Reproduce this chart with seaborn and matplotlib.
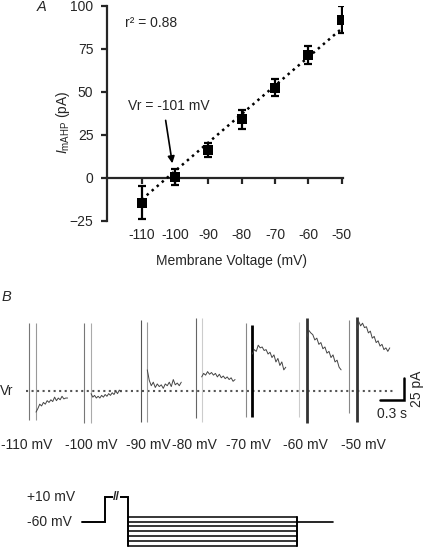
import numpy as np
import matplotlib
matplotlib.use("Agg")
import matplotlib.pyplot as plt
import seaborn as sns

# Panel A: mAHP current vs membrane voltage
voltages = [-110, -100, -90, -80, -70, -60, -50]
i_mahp = [-14.5, 0.5, 16, 34, 52.5, 71.5, 92]
i_sem = [9.5, 4.8, 4, 5.5, 5.2, 5.3, 7.8]
fit_v = [-110, -50]
fit_i = [-12.7, 86.8]

# Panel B: example traces (time in s, current in pA relative to Vr)
step_labels = ["-110 mV", "-100 mV", "-90 mV", "-80 mV", "-70 mV", "-60 mV", "-50 mV"]
stim_on = [0.366, 1.054, 1.759, 2.446, 3.071, 3.741, 4.359]
stim_off = [0.450, 1.138, 1.841, 2.521, 3.154, 3.834, 4.459]
trace_dur = [0.395, 0.375, 0.425, 0.417, 0.418, 0.430, 0.413]
art1_top = [76.9, 76.9, 80.7, 82.6, 76.9, 78.7, 80.7]
art1_bot = [-33.0, -36.7, -34.9, -31.0, -29.2, -29.0, -25.4]
art2_top = [76.9, 76.9, 78.7, 82.6, 75.0, 82.6, 84.4]
art2_bot = [-33.0, -36.7, -34.9, -34.9, -29.0, -36.7, -34.9]
traces = [
    [-24, -20, -15, -17, -13, -15, -11, -13, -10, -12, -7, -11, -8, -10, -6, -9, -8, -8],
    [-3, -7, -5, -8, -6, -8, -5, -7, -4, -6, -3, -5, -2, -4, 0, -3, 1, -1],
    [24, 12, 6, 10, 4, 8, 5, 7, 3, 8, 6, 10, 5, 13, 7, 9, 6, 10],
    [16, 20, 18, 22, 19, 21, 18, 20, 16, 19, 15, 17, 14, 16, 13, 15, 11, 13],
    [42, 47, 45, 52, 49, 50, 46, 47, 42, 44, 38, 41, 33, 37, 29, 33, 24, 27],
    [60, 69, 66, 64, 58, 60, 53, 55, 48, 50, 43, 45, 38, 41, 33, 35, 27, 24],
    [69, 79, 74, 77, 72, 73, 66, 68, 60, 62, 55, 57, 51, 53, 47, 49, 45, 49],
]

# Voltage protocol (schematic)
protocol_t = [1.021, 1.3125, 1.604, 3.709, 4.166]
hold_v = -60
pre_display = -10.4  # +10 mV prepulse, axis broken
step_v = [-50, -60, -70, -80, -90, -100, -110]

sns.set_style("ticks")
plt.rcParams["font.family"] = ["Liberation Sans", "DejaVu Sans"]
plt.rcParams["mathtext.fontset"] = "custom"
plt.rcParams["mathtext.rm"] = "Liberation Sans"
plt.rcParams["mathtext.it"] = "Liberation Sans:italic"

fig = plt.figure(figsize=(4.24, 5.48), dpi=100)

# ---------------- Panel A ----------------
ax = fig.add_axes([0.2531, 0.5973, 0.5566, 0.3918])
ax.errorbar(voltages, i_mahp, yerr=i_sem, fmt="none", ecolor="black",
            elinewidth=1.6, capsize=3.2, capthick=1.6, zorder=2)
sns.lineplot(x=fit_v, y=fit_i, ax=ax, color="black", linestyle=":", linewidth=1.8, zorder=3)
sns.scatterplot(x=voltages, y=i_mahp, ax=ax, marker="s", s=45, color="black",
                linewidth=0, zorder=4)
ax.set_xlim(-120.3, -49.5)
ax.set_ylim(-25, 100)
ax.set_yticks([-25, 0, 25, 50, 75, 100])
ax.set_xticks(voltages)
ax.spines["bottom"].set_position(("data", 0))
ax.spines["right"].set_visible(False)
ax.spines["top"].set_visible(False)
for s in ["left", "bottom"]:
    ax.spines[s].set_linewidth(1.6)
ax.tick_params(axis="x", direction="out", length=4, width=1.6, labelbottom=False)
ax.tick_params(axis="y", direction="out", length=4, width=1.6, labelsize=10, pad=6)

# tick labels sit at the bottom of the panel, below the zero-crossing axis
sec = ax.secondary_xaxis("bottom")
sec.set_xticks(voltages)
sec.set_xticklabels([str(v) for v in voltages])
sec.tick_params(length=0, labelsize=10, pad=5)
sec.spines["bottom"].set_visible(False)

ax.set_ylabel(r"$I_{\mathrm{mAHP}}$ (pA)", fontsize=10)
ax.yaxis.set_label_coords(-0.15, 0.46)
ax.text(0.528, -0.155, "Membrane Voltage (mV)", transform=ax.transAxes,
        fontsize=10, ha="center", va="top")

ax.text(-115, 90, "r² = 0.88", fontsize=10, va="center", ha="left")
ax.text(-114.2, 41.6, "Vr = -101 mV", fontsize=10, va="center", ha="left")
ax.annotate("", xy=(-100.8, 8.4), xytext=(-102.8, 33.4),
            arrowprops=dict(arrowstyle="-|>", color="black", lw=1.2,
                            mutation_scale=10, shrinkA=0, shrinkB=0))

fig.text(37 / 424, 1.0, "A", fontsize=10.5, style="italic", va="top", ha="left")

# ---------------- Panel B ----------------
bx = fig.add_axes([0, 0.1606, 1, 0.292])
bx.set_xlim(0, 5.3)
bx.set_ylim(-78.4, 103.4)
bx.axis("off")

bx.plot([0.33, 4.94], [0, 0], linestyle=":", color="#555555", linewidth=1.5, zorder=1)

art1_colors = ["#777777", "#777777", "#555555", "#666666", "#888888", "#cccccc", "#888888"]
art2_colors = ["#999999", "#aaaaaa", "#999999", "#cccccc", "#000000", "#333333", "#333333"]
art2_widths = [0.8, 0.8, 0.8, 0.8, 2.0, 2.0, 2.0]
for k in range(len(traces)):
    bx.vlines(stim_on[k], art1_bot[k], art1_top[k], color=art1_colors[k], linewidth=0.8)
    bx.vlines(stim_off[k], art2_bot[k], art2_top[k], color=art2_colors[k], linewidth=art2_widths[k])
    tt = np.linspace(stim_off[k], stim_off[k] + trace_dur[k], len(traces[k]))
    sns.lineplot(x=tt, y=traces[k], ax=bx, color="#444444", linewidth=0.7,
                 estimator=None, sort=False)

label_x = [0.3375, 1.1375, 1.85, 2.425, 3.1, 3.8125, 4.5375]
for lx, lab in zip(label_x, step_labels):
    bx.text(lx, -61.3, lab, fontsize=10, ha="center", va="center")

bx.text(0.0, 0, "Vr", fontsize=10, ha="left", va="center")

# scale bar: 0.3 s, 25 pA
bx.plot([4.754, 5.054, 5.054], [-10.2, -10.2, 14.8], color="black", linewidth=1.8,
        solid_joinstyle="miter")
bx.text(5.21, 2.3, "25 pA", fontsize=10, rotation=90, ha="center", va="center")
bx.text(4.906, -26.5, "0.3 s", fontsize=10, ha="center", va="center")

fig.text(2 / 424, 1 - 290 / 548, "B", fontsize=10.5, style="italic", va="top", ha="left")

# ---------------- Protocol ----------------
px = fig.add_axes([0, 0, 1, 68 / 548])
px.set_xlim(0, 5.3)
px.set_ylim(-113.9, 24.9)
px.axis("off")
t0, t1, t2, t3, t4 = protocol_t
px.plot([t0, t1, t1, t2, t2], [hold_v, hold_v, pre_display, pre_display, step_v[-1]],
        color="black", linewidth=1.4, solid_joinstyle="miter")
for v in step_v:
    px.plot([t2, t3], [v, v], color="black", linewidth=1.1)
px.plot([t3, t3], [step_v[0], step_v[-1]], color="black", linewidth=1.4)
px.plot([t3, t4], [hold_v, hold_v], color="black", linewidth=1.2)
px.text((t1 + t2) / 2, pre_display, "//", fontsize=9, fontweight="bold", ha="center",
        va="center", bbox=dict(facecolor="white", edgecolor="none", pad=0.2))
px.text(0.9375, pre_display, "+10 mV", fontsize=10, ha="right", va="center")
px.text(0.90, hold_v, "-60 mV", fontsize=10, ha="right", va="center")

fig.savefig("out.png", dpi=100)
